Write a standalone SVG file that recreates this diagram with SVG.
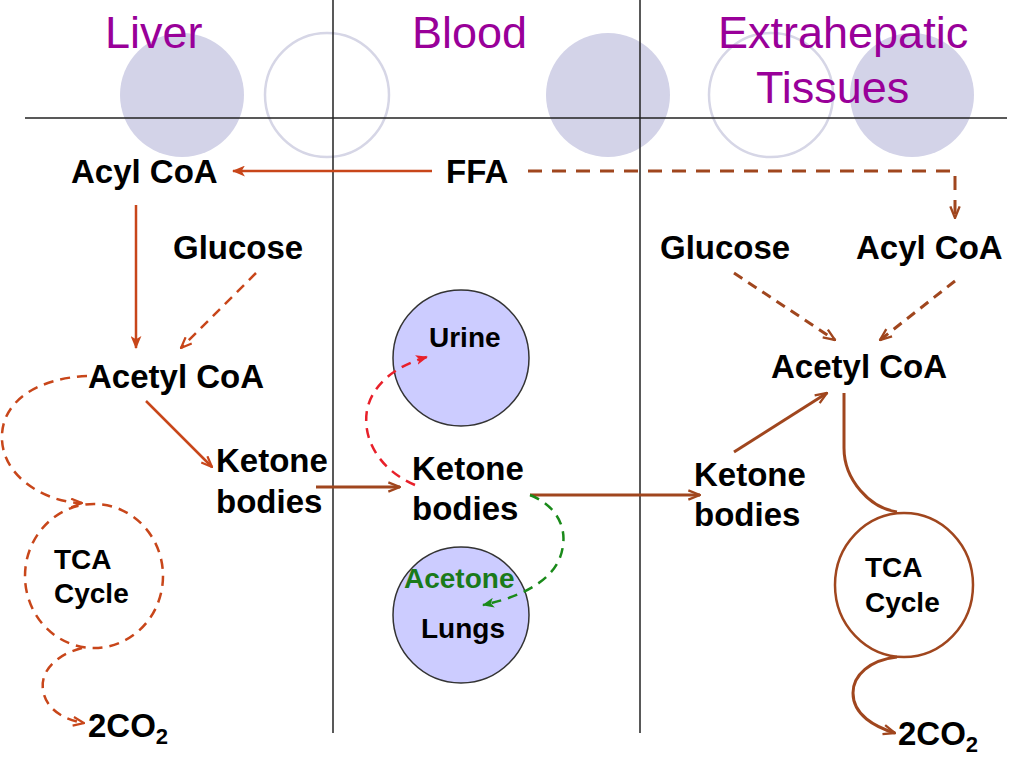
<svg xmlns="http://www.w3.org/2000/svg" width="1024" height="768" viewBox="0 0 1024 768">
<style>
.title{font-family:"Liberation Sans",Arial,sans-serif;font-size:45px;fill:#990099}
.lbl{font-family:"Liberation Sans",Arial,sans-serif;font-weight:bold;font-size:33px;fill:#000}
.sm{font-family:"Liberation Sans",Arial,sans-serif;font-weight:bold;font-size:28px;fill:#000}
.deco-f{fill:#d3d3e8}
.deco-o{fill:none;stroke:#d6d6e6;stroke-width:2.5}
.grid{stroke:#222;stroke-width:1.5}
.orange{fill:none;stroke:#c8461a;stroke-width:2.5}
.brown{fill:none;stroke:#a0461e;stroke-width:3}
.dash{stroke-dasharray:10 7}
.dashL{stroke-dasharray:14 10}
.red{fill:none;stroke:#e8202a;stroke-width:2.5;stroke-dasharray:10 7}
.green{fill:none;stroke:#1a8a1a;stroke-width:2.5;stroke-dasharray:10 7}
.organ{fill:#ccccff;stroke:#333;stroke-width:1.5}
</style>
<defs>
<marker id="aO" viewBox="0 0 12 10" refX="11" refY="5" markerWidth="13" markerHeight="11" markerUnits="userSpaceOnUse" orient="auto"><path d="M0,0 L12,5 L0,10 L3,5 z" fill="#c8461a"/></marker>
<marker id="vO" viewBox="0 0 12 10" refX="11" refY="5" markerWidth="13" markerHeight="11" markerUnits="userSpaceOnUse" orient="auto"><path d="M1,1 L11,5 L1,9" fill="none" stroke="#c8461a" stroke-width="2"/></marker>
<marker id="vB" viewBox="0 0 12 10" refX="11" refY="5" markerWidth="14" markerHeight="12" markerUnits="userSpaceOnUse" orient="auto"><path d="M1,1 L11,5 L1,9" fill="none" stroke="#a0461e" stroke-width="2"/></marker>
<marker id="vR" viewBox="0 0 12 10" refX="11" refY="5" markerWidth="12" markerHeight="10" markerUnits="userSpaceOnUse" orient="auto"><path d="M0,0 L12,5 L0,10 L3,5 z" fill="#e8202a"/></marker>
<marker id="vG" viewBox="0 0 12 10" refX="11" refY="5" markerWidth="12" markerHeight="10" markerUnits="userSpaceOnUse" orient="auto"><path d="M0,0 L12,5 L0,10 L3,5 z" fill="#1a8a1a"/></marker>
</defs>
<rect width="1024" height="768" fill="#fff"/>
<g id="decoration">
<circle class="deco-f" cx="182" cy="95" r="62"/>
<circle class="deco-o" cx="327" cy="95" r="62"/>
<circle class="deco-f" cx="608" cy="95" r="62"/>
<circle class="deco-o" cx="771" cy="95" r="62"/>
<circle class="deco-f" cx="912" cy="95" r="62"/>
</g>
<g id="grid">
<line class="grid" x1="333" y1="0" x2="333" y2="733"/>
<line class="grid" x1="640" y1="0" x2="640" y2="733"/>
<line class="grid" x1="25" y1="118" x2="1007" y2="118"/>
</g>
<g id="titles">
<text class="title" x="105" y="48">Liver</text>
<text class="title" x="412" y="48">Blood</text>
<text class="title" x="718" y="48">Extrahepatic</text>
<text class="title" x="756" y="103">Tissues</text>
</g>
<g id="liver-acyl"><text class="lbl" x="71" y="183">Acyl CoA</text></g>
<g id="ffa"><text class="lbl" x="446" y="183">FFA</text></g>
<g id="liver-glucose"><text class="lbl" x="173" y="259">Glucose</text></g>
<g id="liver-acetyl"><text class="lbl" x="88" y="388">Acetyl CoA</text></g>
<g id="liver-ketone"><text class="lbl" x="216" y="472">Ketone</text><text class="lbl" x="216" y="513">bodies</text></g>
<g id="liver-tca">
<ellipse class="orange dash" cx="94" cy="576" rx="69" ry="72" stroke-width="2"/>
<text class="sm" x="54" y="569">TCA</text><text class="sm" x="54" y="603">Cycle</text>
</g>
<g id="liver-co2"><text class="lbl" x="88" y="737">2CO<tspan font-size="22" dy="7">2</tspan></text></g>
<g id="urine"><circle class="organ" cx="461" cy="358" r="68"/><text class="sm" x="429" y="347">Urine</text></g>
<g id="blood-ketone"><text class="lbl" x="412" y="480">Ketone</text><text class="lbl" x="412" y="520">bodies</text></g>
<g id="lungs"><circle class="organ" cx="461" cy="615" r="68"/>
<text class="sm" x="404" y="588" style="fill:#1a7a1a">Acetone</text>
<text class="sm" x="421" y="638">Lungs</text></g>
<g id="ext-glucose"><text class="lbl" x="660" y="259">Glucose</text></g>
<g id="ext-acyl"><text class="lbl" x="856" y="259">Acyl CoA</text></g>
<g id="ext-acetyl"><text class="lbl" x="771" y="378">Acetyl CoA</text></g>
<g id="ext-ketone"><text class="lbl" x="694" y="486">Ketone</text><text class="lbl" x="694" y="526">bodies</text></g>
<g id="ext-tca">
<ellipse cx="904" cy="585" rx="69" ry="72" fill="none" stroke="#a0461e" stroke-width="2.5"/>
<text class="sm" x="865" y="577">TCA</text><text class="sm" x="865" y="612">Cycle</text>
</g>
<g id="ext-co2"><text class="lbl" x="898" y="745">2CO<tspan font-size="22" dy="7">2</tspan></text></g>
<g id="connectors">
<line class="orange" x1="432" y1="171" x2="233" y2="171" marker-end="url(#aO)"/>
<path class="brown dashL" d="M528,171 H955 V218" marker-end="url(#vB)"/>
<line class="orange" x1="136" y1="205" x2="136" y2="348" marker-end="url(#aO)"/>
<line class="orange dash" x1="256" y1="273" x2="181" y2="348" marker-end="url(#vO)"/>
<line class="orange" x1="146" y1="401" x2="212" y2="467" marker-end="url(#vO)"/>
<path class="orange dash" d="M87,376 C40,378 0,400 2,440 C4,480 50,503 82,503" stroke-width="2" marker-end="url(#vO)"/>
<path class="orange dash" d="M82,648 C55,655 40,672 43,690 C46,710 65,720 84,723" stroke-width="2" marker-end="url(#vO)"/>
<line class="brown" x1="316" y1="487" x2="400" y2="487" marker-end="url(#vB)"/>
<line class="brown" x1="530" y1="495" x2="700" y2="495" marker-end="url(#vB)"/>
<path class="red" d="M415,485 C380,470 362,440 367,410 C372,385 395,366 427,357" marker-end="url(#vR)"/>
<path class="green" d="M530,495 C555,505 566,525 563,545 C560,575 530,595 483,605" marker-end="url(#vG)"/>
<line class="brown dash" x1="734" y1="273" x2="835" y2="340" marker-end="url(#vB)"/>
<line class="brown dash" x1="955" y1="281" x2="880" y2="340" marker-end="url(#vB)"/>
<line class="brown" x1="734" y1="452" x2="827" y2="393" marker-end="url(#vB)"/>
<path class="brown" d="M844,393 L844,448 C844,480 870,508 897,512" stroke-width="2.5"/>
<path class="brown" d="M897,657 C870,660 853,675 853,693 C853,715 875,727 895,733" stroke-width="2" marker-end="url(#vB)"/>
</g>
</svg>
